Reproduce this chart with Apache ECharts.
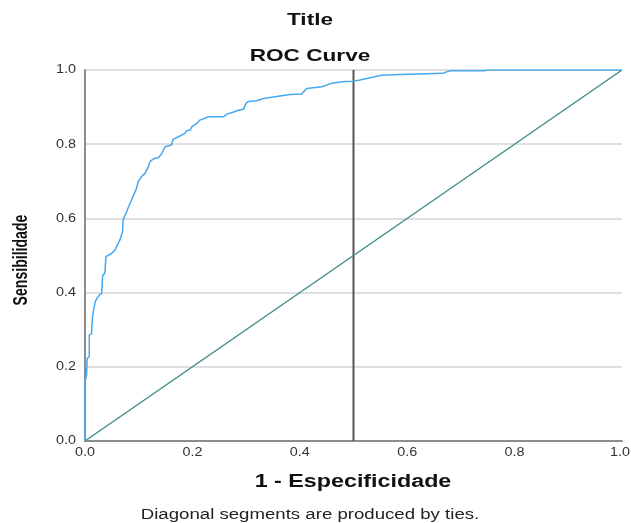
<!DOCTYPE html>
<html>
<head>
<meta charset="utf-8">
<script src="https://cdn.jsdelivr.net/npm/echarts@6/dist/echarts.min.js"></script>
<style>
  html, body { margin: 0; padding: 0; background: #ffffff; }
  #chart { width: 631px; height: 523px; }
</style>
</head>
<body>
<div id="chart"></div>
<script>
// ROC curve: false positive rate (1 - specificity) vs true positive rate
const fprValues = [0, 0, 0.003, 0.004, 0.008, 0.008, 0.012, 0.014, 0.016, 0.019, 0.022, 0.027, 0.031, 0.033, 0.033,
  0.037, 0.039, 0.050, 0.056, 0.065, 0.070, 0.071, 0.084, 0.096, 0.099, 0.105, 0.112, 0.118, 0.121, 0.127,
  0.137, 0.143, 0.149, 0.161, 0.164, 0.174, 0.186, 0.189, 0.196, 0.199, 0.208, 0.214, 0.223, 0.230, 0.258,
  0.264, 0.276, 0.282, 0.295, 0.300, 0.304, 0.320, 0.332, 0.382, 0.403, 0.413, 0.416, 0.441, 0.459, 0.484,
  0.500, 0.512, 0.552, 0.587, 0.590, 0.667, 0.673, 0.680, 0.742, 0.751, 1.0];
const tprValues = [0, 0.160, 0.178, 0.223, 0.227, 0.286, 0.288, 0.335, 0.353, 0.375, 0.384, 0.394, 0.398, 0.402, 0.447,
  0.452, 0.497, 0.506, 0.515, 0.542, 0.564, 0.596, 0.641, 0.681, 0.699, 0.712, 0.722, 0.739, 0.753, 0.760,
  0.764, 0.775, 0.793, 0.798, 0.813, 0.820, 0.829, 0.836, 0.838, 0.847, 0.856, 0.865, 0.870, 0.874, 0.874,
  0.881, 0.886, 0.890, 0.894, 0.910, 0.915, 0.917, 0.923, 0.934, 0.935, 0.950, 0.955, 0.955, 0.964, 0.969,
  0.970, 0.973, 0.986, 0.988, 0.991, 0.991, 0.995, 0.998, 0.998, 1.0, 1.0];

// chance (reference) line
const referenceX = [0, 1];
const referenceY = [0, 1];

// vertical marker at 1 - specificity = 0.5
const cutoffX = 0.5;

// axis ticks, shared by both axes
const tickValues = [0, 0.2, 0.4, 0.6, 0.8, 1.0];
const tickLabels = ['0.0', '0.2', '0.4', '0.6', '0.8', '1.0'];

const chartTitle = 'Title';
const chartSubtitle = 'ROC Curve';
const xAxisName = '1 - Especificidade';
const yAxisName = 'Sensibilidade';
const footnote = 'Diagonal segments are produced by ties.';

const rocPoints = fprValues.map((x, i) => [x, tprValues[i]]);
const refPoints = referenceX.map((x, i) => [x, referenceY[i]]);
const cutoffPoints = [[cutoffX, 0], [cutoffX, 1]];

// all text is drawn with a horizontal stretch
const STRETCH = 1.33;
const TICK_STRETCH = 1.2;
const FONT = 'Liberation Sans, Arial, sans-serif';

const chart = echarts.init(document.getElementById('chart'), null, { renderer: 'canvas' });

chart.setOption({
  animation: false,
  backgroundColor: '#ffffff',
  textStyle: { fontFamily: FONT },
  grid: { left: 85, right: 9, top: 70, bottom: 82 },
  xAxis: {
    type: 'value', min: 0, max: 1, interval: 0.2,
    axisLine: { show: true, lineStyle: { color: '#8c8c8c', width: 2 } },
    axisTick: { show: false },
    splitLine: { show: false },
    axisLabel: { show: false }
  },
  yAxis: {
    type: 'value', min: 0, max: 1, interval: 0.2,
    axisLine: { show: true, lineStyle: { color: '#8c8c8c', width: 2 } },
    axisTick: { show: false },
    splitLine: { show: true, lineStyle: { color: '#d4d4d4', width: 1.5 } },
    axisLabel: { show: false }
  },
  series: [
    {
      type: 'line', data: cutoffPoints, symbol: 'none', silent: true,
      lineStyle: { color: '#555555', width: 2 }, z: 3
    },
    {
      type: 'line', data: refPoints, symbol: 'none', silent: true,
      lineStyle: { color: '#3f8f8c', width: 1.5 }, z: 4
    },
    {
      type: 'line', data: rocPoints, symbol: 'none', silent: true,
      lineStyle: { color: '#45a8f0', width: 1.5 }, z: 5
    }
  ]
});

// stretched text element centred (or anchored) at x, y
function label(text, x, y, opts) {
  return {
    type: 'text', x: x, y: y,
    scaleX: opts.scaleX ?? STRETCH, scaleY: opts.scaleY ?? 1,
    rotation: opts.rotation ?? 0,
    silent: true, z: 10,
    style: {
      text: text, x: 0, y: 0,
      align: opts.align ?? 'center', verticalAlign: 'middle',
      fontSize: opts.size, fontWeight: opts.bold ? 'bold' : 'normal',
      fontFamily: FONT, fill: opts.color ?? '#111'
    }
  };
}

const graphics = [
  label(chartTitle, 310, 20, { size: 17, bold: true }),
  label(chartSubtitle, 310, 56, { size: 17, bold: true }),
  label(xAxisName, 353, 482, { size: 17.5, bold: true }),
  label(footnote, 310, 515, { size: 14, color: '#222' }),
  label(yAxisName, 21, 260, { size: 16, bold: true, rotation: Math.PI / 2, scaleX: 0.88, scaleY: 1.3 })
];

// tick labels placed through the axis scales
tickValues.forEach((v, i) => {
  const px = chart.convertToPixel({ gridIndex: 0 }, [v, 0]);
  const isLast = i === tickValues.length - 1;
  graphics.push(label(tickLabels[i], isLast ? px[0] - 2 : px[0], px[1] + 12,
    { size: 12, color: '#333', scaleX: TICK_STRETCH }));
  const py = chart.convertToPixel({ gridIndex: 0 }, [0, v]);
  graphics.push(label(tickLabels[i], py[0] - 9, py[1],
    { size: 12, color: '#333', align: 'right', scaleX: TICK_STRETCH }));
});

chart.setOption({ graphic: graphics });
</script>
</body>
</html>
